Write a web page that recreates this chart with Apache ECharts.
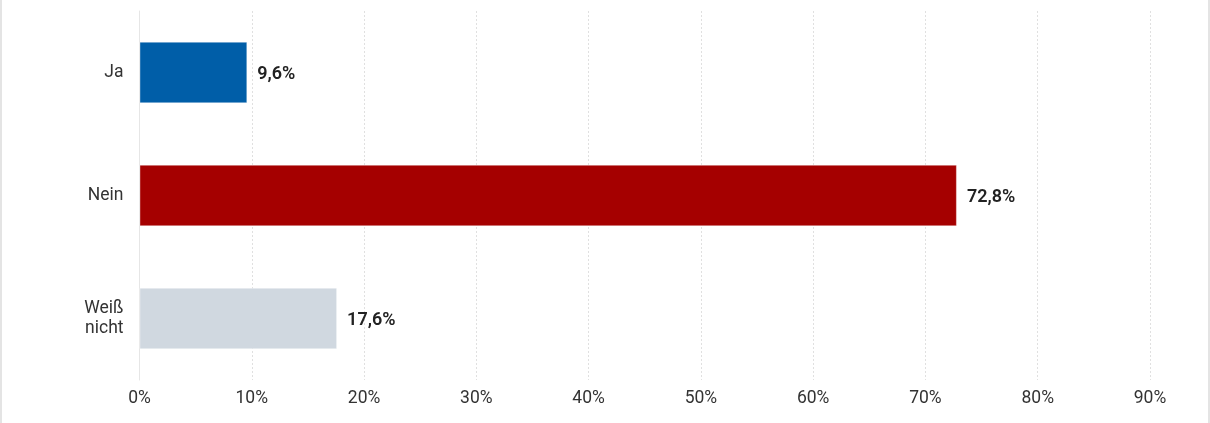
<!DOCTYPE html>
<html><head><meta charset="utf-8">
<script src="https://cdn.jsdelivr.net/npm/echarts@6/dist/echarts.min.js"></script>
<style>
html,body{margin:0;padding:0;background:#fff;}
#wrap{position:absolute;left:0;top:0;width:1206px;height:423px;border-left:2px solid #e4e4e4;border-right:2px solid #e4e4e4;}
#c{width:1206px;height:423px;}
</style></head><body>
<div id="wrap"><div id="c"></div></div>
<script>
const categories = ['Ja', 'Nein', 'Weiß\nnicht'];
const values = [9.6, 72.8, 17.6];
const colors = ['#005ea8', '#a50000', '#d0d8e0'];
const tickMax = 90;

const chart = echarts.init(document.getElementById('c'));
chart.setOption({
  animation: false,
  grid: {left: 137.5, right: 58, top: 11, bottom: 43},
  xAxis: {
    type: 'value', min: 0, max: tickMax, interval: 10,
    axisLine: {show: false}, axisTick: {show: false},
    axisLabel: {formatter: '{value}%', color: '#333', fontFamily: 'Roboto', fontSize: 17.5, margin: 10},
    splitLine: {show: true, lineStyle: {color: '#e0e0e0', type: [2, 2], width: 1}}
  },
  yAxis: {
    type: 'category', data: categories, inverse: true,
    axisLine: {show: true, lineStyle: {color: '#e6e6e6', width: 1}},
    axisTick: {show: false},
    axisLabel: {color: '#333', fontFamily: 'Roboto', fontSize: 17.5, margin: 16, lineHeight: 20, align: 'right', padding: [4, 0, 0, 0]}
  },
  series: [{
    type: 'bar', barWidth: '50%',
    data: values.map((v, i) => ({value: v, itemStyle: {color: colors[i], borderColor: 'rgba(255,255,255,0.35)', borderWidth: 1}})),
    label: {show: true, position: 'right', distance: 10, offset: [0, 2], color: '#222', fontFamily: 'Roboto', fontSize: 18, fontWeight: 600,
      formatter: p => p.value.toFixed(1).replace('.', ',') + '%'}
  }]
});
</script>
</body></html>
